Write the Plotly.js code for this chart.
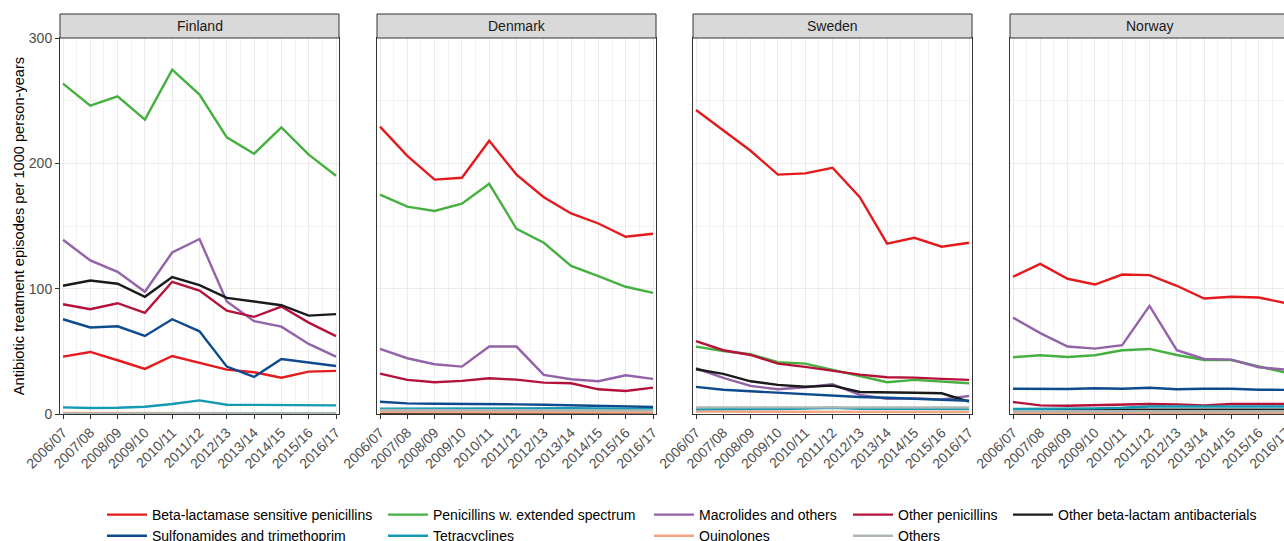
<!DOCTYPE html>
<html><head><meta charset="utf-8">
<script src="https://cdn.plot.ly/plotly-3.0.1.min.js"></script>
<style>html,body{margin:0;padding:0;overflow:hidden;background:#fff}</style>
</head><body>
<div id="chart" style="width:1310px;height:560px"></div>
<script>
// ---- data ----
const seasons = ['2006/07','2007/08','2008/09','2009/10','2010/11','2011/12','2012/13','2013/14','2014/15','2015/16','2016/17'];
const countries = ['Finland','Denmark','Sweden','Norway'];
const seriesNames = ['Beta-lactamase sensitive penicillins','Penicillins w. extended spectrum','Macrolides and others','Other penicillins','Other beta-lactam antibacterials','Sulfonamides and trimethoprim','Tetracyclines','Quinolones','Others'];
const seriesColors = ['#E41A1C','#45B040','#9362A8','#B5123A','#1A1A1A','#0D4A8E','#159AB3','#F4A582','#AAB7B5'];
// legend column of each series (ggplot 2-row legend)
const legendColumn = ['legend','legend2','legend3','legend4','legend5','legend','legend2','legend3','legend4'];

// rows follow seriesNames order
const finland = [
  [45.8, 49.5, 42.9, 36.0, 46.3, 41.0, 35.4, 33.3, 29.0, 33.8, 34.4],
  [263.6, 246.0, 253.5, 234.9, 274.8, 254.9, 220.7, 207.7, 228.7, 206.9, 190.1],
  [139.0, 122.5, 113.4, 97.5, 128.9, 139.6, 89.7, 74.1, 69.7, 55.9, 45.8],
  [87.6, 83.6, 88.4, 80.7, 105.5, 98.5, 82.5, 77.5, 85.7, 72.9, 62.1],
  [102.3, 106.5, 103.9, 93.5, 109.2, 102.8, 92.7, 89.5, 86.8, 78.5, 79.7],
  [75.6, 69.0, 70.0, 62.3, 75.6, 66.0, 37.8, 29.6, 43.9, 41.3, 38.3],
  [5.3, 4.8, 5.0, 5.8, 8.0, 10.9, 7.4, 7.2, 7.4, 6.9, 6.9],
  [0.8, 0.8, 0.7, 0.7, 0.8, 0.8, 0.6, 0.5, 0.5, 0.5, 0.5],
  [0.3, 0.3, 0.3, 0.3, 0.3, 0.4, 0.5, 0.6, 0.7, 0.7, 0.7]
];
const denmark = [
  [229.3, 206.0, 187.0, 188.5, 218.0, 191.0, 173.0, 160.0, 152.0, 141.4, 143.8],
  [175.0, 165.4, 162.0, 167.8, 183.7, 147.8, 136.6, 118.2, 110.0, 101.5, 96.7],
  [51.9, 44.5, 39.7, 37.8, 53.8, 53.8, 31.2, 27.7, 26.1, 30.9, 28.0],
  [32.2, 27.2, 25.3, 26.4, 28.5, 27.4, 25.0, 24.5, 19.7, 18.4, 21.0],
  [0.8, 0.8, 0.8, 0.8, 0.8, 0.8, 0.8, 0.8, 0.8, 0.8, 0.8],
  [9.8, 8.5, 8.2, 8.2, 8.2, 7.7, 7.4, 6.9, 6.4, 5.8, 5.6],
  [4.2, 4.3, 4.5, 4.6, 4.8, 4.8, 4.7, 4.6, 4.4, 4.0, 3.8],
  [1.6, 1.6, 1.6, 1.6, 1.5, 1.5, 1.4, 1.4, 1.3, 1.3, 1.2],
  [3.2, 3.2, 3.2, 3.1, 3.1, 3.1, 3.0, 3.0, 3.0, 2.9, 2.9]
];
const sweden = [
  [242.5, 226.0, 210.0, 191.0, 192.0, 196.5, 173.0, 136.0, 140.6, 133.5, 136.6],
  [53.8, 50.3, 47.7, 41.3, 40.2, 35.2, 29.8, 25.3, 27.2, 25.6, 24.5],
  [36.5, 28.8, 22.4, 19.7, 21.3, 23.7, 15.2, 12.2, 12.5, 11.7, 14.4],
  [58.1, 50.9, 47.1, 40.2, 37.6, 34.4, 31.4, 29.3, 29.0, 28.0, 27.2],
  [35.7, 32.0, 26.1, 23.2, 21.8, 22.6, 17.6, 17.0, 17.0, 16.5, 9.8],
  [21.6, 19.4, 18.1, 17.0, 15.7, 14.4, 13.6, 13.0, 12.2, 11.4, 10.6],
  [3.6, 3.6, 3.8, 4.0, 4.3, 5.0, 4.2, 4.0, 4.0, 4.0, 4.0],
  [1.9, 1.9, 1.8, 1.8, 1.8, 1.8, 1.7, 1.7, 1.6, 1.6, 1.6],
  [5.3, 5.3, 5.3, 5.3, 5.3, 5.3, 5.2, 5.2, 5.2, 5.2, 5.2]
];
const norway = [
  [109.5, 119.8, 107.9, 103.3, 111.3, 110.8, 102.3, 92.1, 93.5, 92.9, 88.5],
  [45.3, 46.9, 45.5, 46.9, 50.9, 51.9, 47.1, 43.1, 43.1, 37.8, 33.0],
  [76.9, 64.5, 53.8, 52.2, 54.9, 86.3, 50.9, 43.9, 43.4, 37.3, 35.3],
  [9.6, 6.9, 6.6, 7.2, 7.7, 8.0, 7.7, 6.9, 8.0, 8.0, 8.0],
  [3.5, 3.5, 3.5, 3.5, 3.5, 3.5, 3.5, 3.5, 3.5, 3.5, 3.5],
  [20.2, 20.0, 20.0, 20.5, 20.2, 21.0, 19.7, 20.2, 20.2, 19.4, 19.2],
  [4.0, 4.0, 4.0, 4.5, 5.0, 6.0, 6.0, 6.0, 6.0, 6.0, 6.0],
  [1.0, 1.0, 1.0, 1.0, 1.0, 1.0, 1.0, 1.0, 1.0, 1.0, 1.0],
  [2.2, 2.2, 2.2, 2.2, 2.2, 2.2, 2.2, 2.2, 2.2, 2.2, 2.2]
];
const yTickVals = [0, 100, 200, 300];
const yTitle = 'Antibiotic treatment episodes per 1000 person-years';

// ---- layout geometry (pixels) ----
const W = 1310, H = 560;
const panelLeft = [60, 377, 693, 1010], panelWidth = 279;
const panelTop = 38, panelBottom = 414, stripTop = 14;
const legendTextX = [152, 433, 699, 898, 1058];
const legendTop = 499;
const FONT = 'Liberation Sans, Arial, Helvetica, sans-serif';

const countryData = [finland, denmark, sweden, norway];
const xIdx = seasons.map((s, i) => i);

const traces = [];
countryData.forEach((rows, c) => {
  const sfx = c === 0 ? '' : String(c + 1);
  rows.forEach((vals, s) => {
    traces.push({
      type: 'scatter', mode: 'lines',
      x: xIdx, y: vals,
      xaxis: 'x' + sfx, yaxis: 'y' + sfx,
      name: seriesNames[s],
      legendgroup: seriesNames[s],
      legend: legendColumn[s],
      showlegend: c === 0,
      line: {color: seriesColors[s], width: 2.4},
      hovertemplate: countries[c] + '<br>%{text}: %{y}<extra>' + seriesNames[s] + '</extra>',
      text: seasons
    });
  });
});

const layout = {
  width: W, height: H,
  margin: {l: 0, r: 0, t: 0, b: 0},
  paper_bgcolor: '#fff', plot_bgcolor: '#fff',
  font: {family: FONT, size: 14, color: '#000'},
  shapes: [], annotations: []
};

countries.forEach((name, c) => {
  const sfx = c === 0 ? '' : String(c + 1);
  const x0 = panelLeft[c] / W, x1 = (panelLeft[c] + panelWidth) / W;
  layout['xaxis' + sfx] = {
    domain: [x0, x1], anchor: 'y' + sfx,
    range: [-0.11, 10.11],
    tickmode: 'array', tickvals: xIdx, ticktext: seasons, tickangle: -45,
    ticks: 'outside', ticklen: 4, tickwidth: 1, tickcolor: '#333',
    tickfont: {family: FONT, size: 14, color: '#4D4D4D'},
    showline: true, linecolor: '#333', linewidth: 1, mirror: true,
    showgrid: true, gridcolor: '#EBEBEB', gridwidth: 1,
    minor: {tickmode: 'linear', tick0: 0.5, dtick: 1, showgrid: true, gridcolor: '#F3F3F3', gridwidth: 0.8, ticks: ''},
    zeroline: false, fixedrange: true
  };
  layout['yaxis' + sfx] = {
    domain: [(H - panelBottom) / H, (H - panelTop) / H], anchor: 'x' + sfx,
    range: [0, 300],
    tickmode: 'array', tickvals: yTickVals,
    showticklabels: c === 0,
    ticks: c === 0 ? 'outside' : '', ticklen: 4, tickwidth: 1, tickcolor: '#333',
    tickfont: {family: FONT, size: 14, color: '#4D4D4D'},
    showline: true, linecolor: '#333', linewidth: 1, mirror: true,
    showgrid: true, gridcolor: '#EBEBEB', gridwidth: 1,
    minor: {tickmode: 'linear', tick0: 50, dtick: 100, showgrid: true, gridcolor: '#F3F3F3', gridwidth: 0.8, ticks: ''},
    zeroline: false, fixedrange: true
  };
  if (c === 0) {
    layout['yaxis' + sfx].title = {text: yTitle, font: {family: FONT, size: 14.6, color: '#000'}, standoff: 0};
  }
  layout.shapes.push({
    type: 'rect', xref: 'paper', yref: 'paper',
    x0: x0, x1: x1, y0: (H - panelTop) / H, y1: (H - stripTop) / H,
    fillcolor: '#D9D9D9', line: {color: '#333', width: 1}
  });
  layout.annotations.push({
    xref: 'paper', yref: 'paper', x: (x0 + x1) / 2, y: (H - (panelTop + stripTop) / 2) / H,
    xanchor: 'center', yanchor: 'middle', showarrow: false,
    text: name, font: {family: FONT, size: 14, color: '#1A1A1A'}
  });
});

['legend','legend2','legend3','legend4','legend5'].forEach((lg, k) => {
  layout[lg] = {
    orientation: 'v', x: (legendTextX[k] - 50) / W, xanchor: 'left',
    y: (H - legendTop) / H, yanchor: 'top',
    itemwidth: 40, tracegroupgap: 1, traceorder: 'normal',
    bgcolor: 'rgba(0,0,0,0)', borderwidth: 0,
    font: {family: FONT, size: 14, color: '#000'}
  };
});

Plotly.newPlot('chart', traces, layout, {displayModeBar: false, responsive: false});
</script>
</body></html>
